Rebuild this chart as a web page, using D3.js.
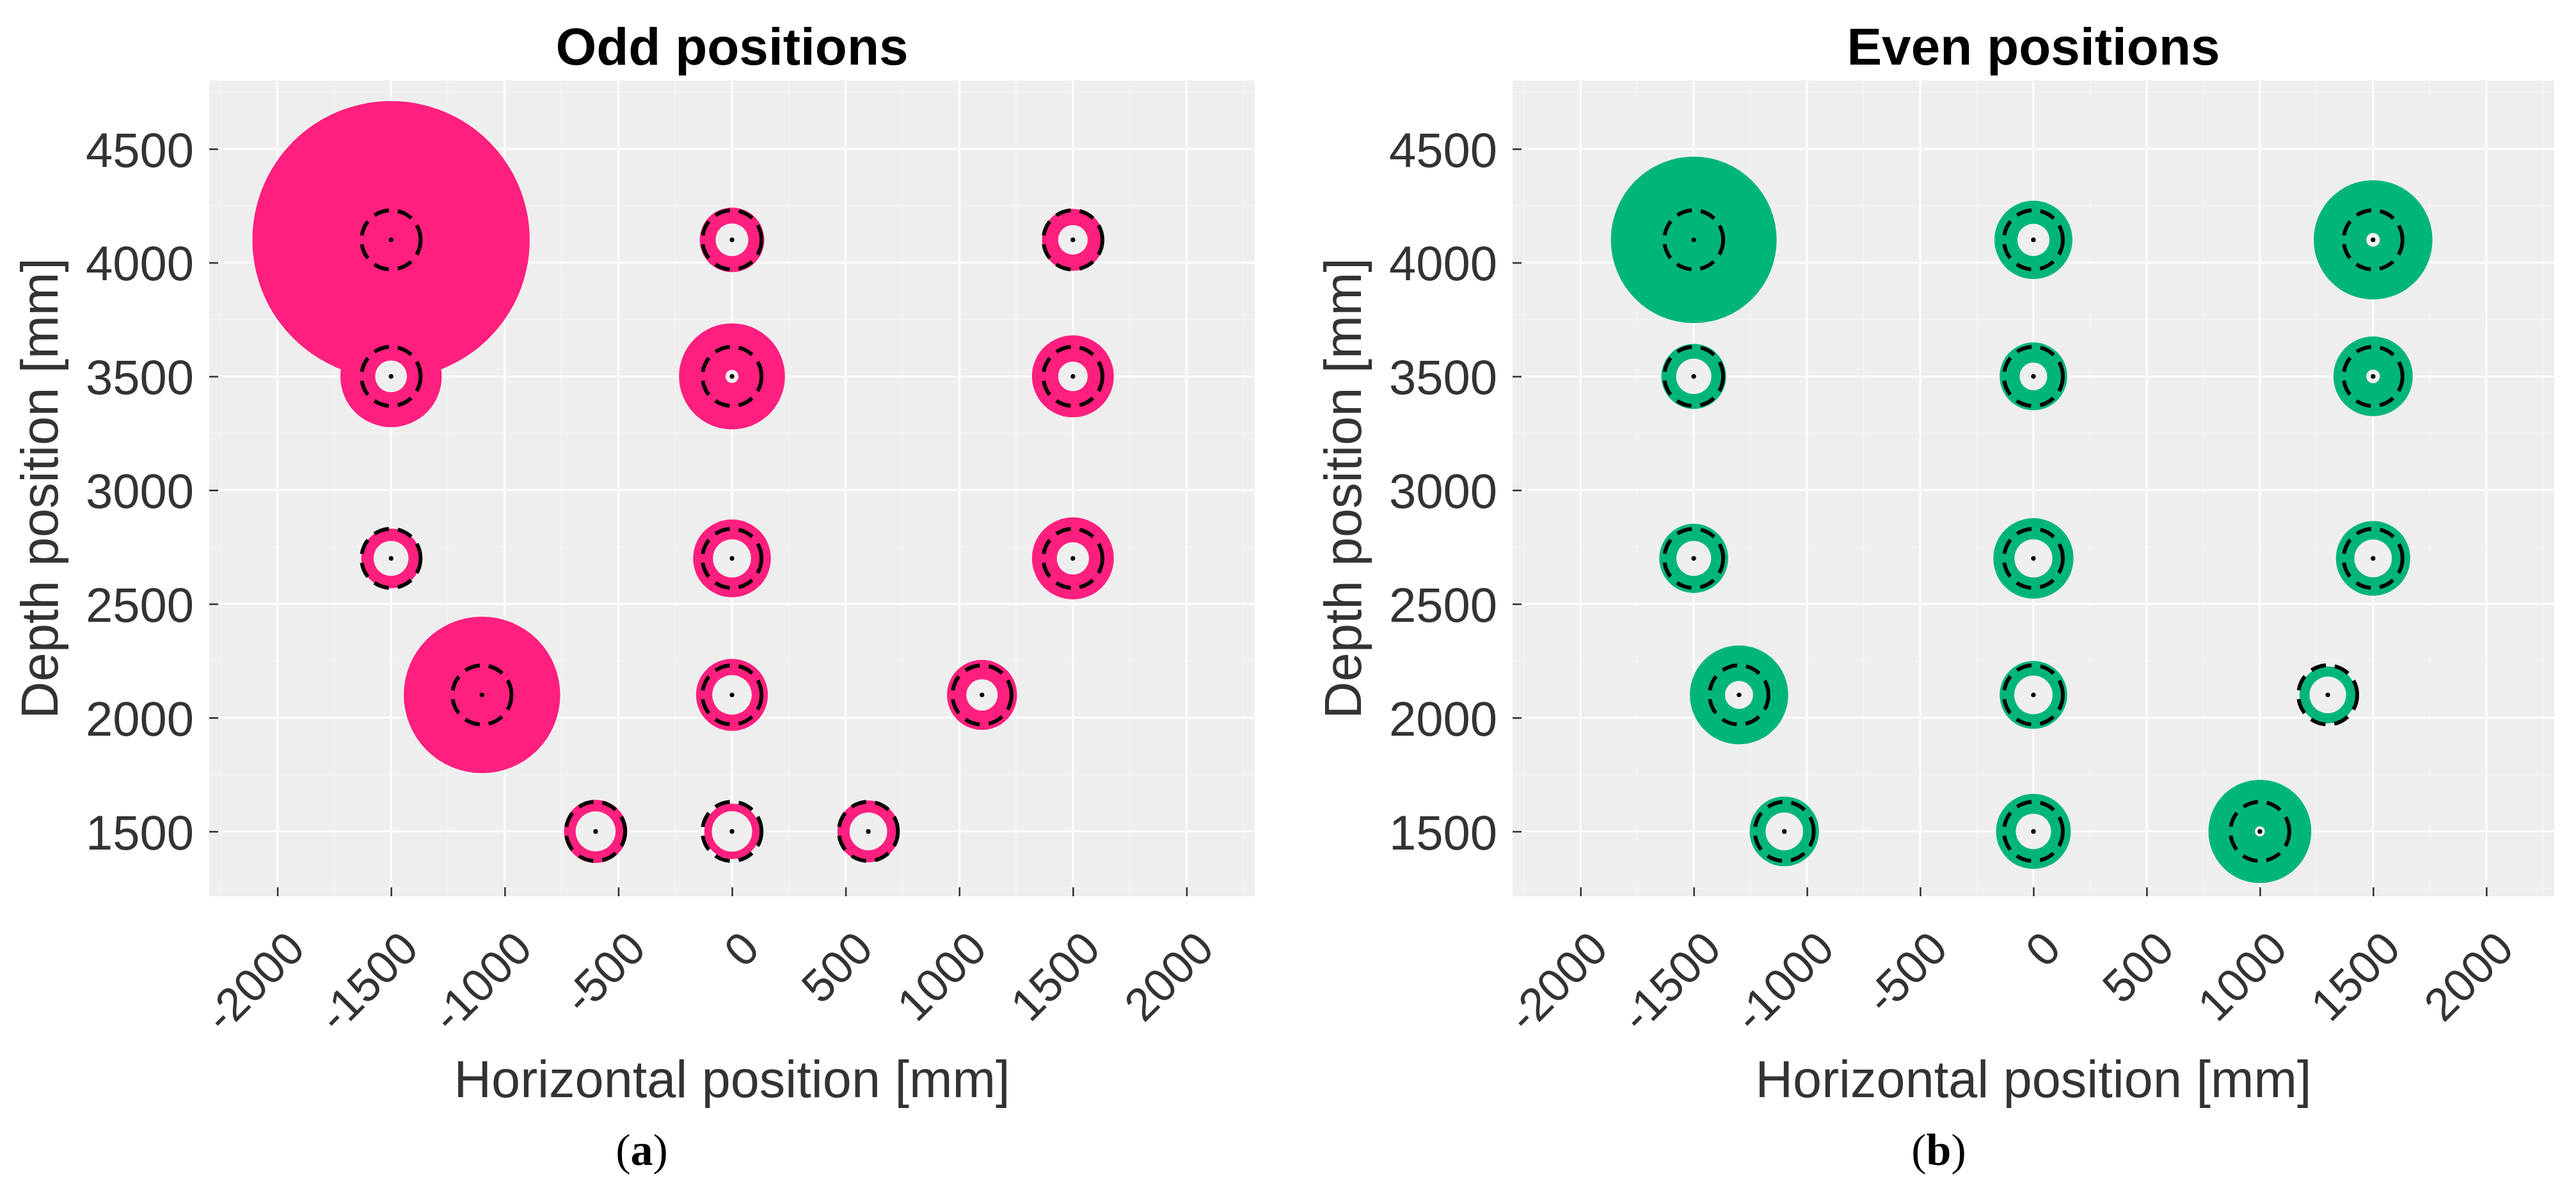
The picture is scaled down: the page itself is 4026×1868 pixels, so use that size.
<!DOCTYPE html>
<html>
<head>
<meta charset="utf-8">
<script src="https://cdn.jsdelivr.net/npm/d3@7"></script>
<style>
  body { margin: 0; background: #fff; }
  text { font-family: "Liberation Sans", Arial, sans-serif; }
</style>
</head>
<body>
<script>
// tick values shared by both panels
var xTicks = [-2000, -1500, -1000, -500, 0, 500, 1000, 1500, 2000];
var yTicks = [1500, 2000, 2500, 3000, 3500, 4000, 4500];

// odd positions: centre x / y [mm], outer radius and hole radius [mm]
var oddX = [-1500, 0, 1500, -1500, 0, 1500, -1500, 0, 1500, -1100, 0, 1100, -600, 0, 600];
var oddY = [4100, 4100, 4100, 3500, 3500, 3500, 2700, 2700, 2700, 2100, 2100, 2100, 1500, 1500, 1500];
var oddOuter = [610, 142, 136, 223, 233, 180, 131, 171, 180, 344, 158, 154, 139, 122, 136];
var oddHole  = [0, 72, 65, 70, 29, 65, 77, 84, 71, 0, 87, 69, 88, 89, 83];

// even positions
var evenX = [-1500, 0, 1500, -1500, 0, 1500, -1500, 0, 1500, -1300, 0, 1300, -1100, 0, 1000];
var evenY = [4100, 4100, 4100, 3500, 3500, 3500, 2700, 2700, 2700, 2100, 2100, 2100, 1500, 1500, 1500];
var evenOuter = [366, 172, 262, 143, 149, 175, 152, 177, 164, 217, 149, 125, 153, 165, 227];
var evenHole  = [0, 71, 30, 78, 61, 30, 77, 84, 83, 62, 85, 81, 83, 78, 22];

// reference (dashed) radius [mm]
var refRadius = 130;

var W = 4026, H = 1868;
var plotTop = 126, plotBottom = 1401;

var svg = d3.select("body").append("svg")
    .attr("width", W)
    .attr("height", H);

svg.append("rect").attr("width", W).attr("height", H).attr("fill", "#fff");

function drawPanel(opt) {
    var data = opt.xs.map(function(d, i) {
        return {x: d, y: opt.ys[i], R: opt.outer[i], r: opt.hole[i]};
    });

    var x = d3.scaleLinear().domain([-2300, 2300]).range([opt.left, opt.right]);
    var y = d3.scaleLinear().domain([1215, 4800]).range([plotBottom, plotTop]);
    var kx = Math.abs(x(1) - x(0)), ky = Math.abs(y(0) - y(1));

    var g = svg.append("g");

    // panel background
    g.append("rect")
        .attr("x", opt.left).attr("y", plotTop)
        .attr("width", opt.right - opt.left).attr("height", plotBottom - plotTop)
        .attr("fill", "#eeeeee");

    // minor grid
    var xMinor = xTicks.slice(0, -1).map(function(d) { return d + 250; })
        .concat([xTicks[0] - 250, xTicks[xTicks.length - 1] + 250]);
    var yMinor = yTicks.slice(0, -1).map(function(d) { return d + 250; })
        .concat([yTicks[0] - 250, yTicks[yTicks.length - 1] + 250]);
    g.selectAll(".xminor").data(xMinor).enter().append("line")
        .attr("x1", x).attr("x2", x).attr("y1", plotTop).attr("y2", plotBottom)
        .attr("stroke", "#f4f4f4").attr("stroke-width", 1.4);
    g.selectAll(".yminor").data(yMinor).enter().append("line")
        .attr("y1", y).attr("y2", y).attr("x1", opt.left).attr("x2", opt.right)
        .attr("stroke", "#f4f4f4").attr("stroke-width", 1.4);

    // major grid
    g.selectAll(".xgrid").data(xTicks).enter().append("line")
        .attr("x1", x).attr("x2", x).attr("y1", plotTop).attr("y2", plotBottom)
        .attr("stroke", "#fff").attr("stroke-width", 2.8);
    g.selectAll(".ygrid").data(yTicks).enter().append("line")
        .attr("y1", y).attr("y2", y).attr("x1", opt.left).attr("x2", opt.right)
        .attr("stroke", "#fff").attr("stroke-width", 2.8);

    // outer discs
    g.selectAll(".outer").data(data).enter().append("ellipse")
        .attr("cx", function(d) { return x(d.x); })
        .attr("cy", function(d) { return y(d.y); })
        .attr("rx", function(d) { return d.R * kx; })
        .attr("ry", function(d) { return d.R * ky; })
        .attr("fill", opt.color);

    // holes
    g.selectAll(".hole").data(data.filter(function(d) { return d.r > 0; })).enter().append("ellipse")
        .attr("cx", function(d) { return x(d.x); })
        .attr("cy", function(d) { return y(d.y); })
        .attr("rx", function(d) { return d.r * kx; })
        .attr("ry", function(d) { return d.r * ky; })
        .attr("fill", "#efefef");

    // dashed reference circle
    g.selectAll(".ref").data(data).enter().append("ellipse")
        .attr("cx", function(d) { return x(d.x); })
        .attr("cy", function(d) { return y(d.y); })
        .attr("rx", refRadius * kx)
        .attr("ry", refRadius * ky)
        .attr("fill", "none")
        .attr("stroke", "#000")
        .attr("stroke-width", 6)
        .attr("stroke-dasharray", "24 14");

    // centre dots
    g.selectAll(".dot").data(data).enter().append("circle")
        .attr("cx", function(d) { return x(d.x); })
        .attr("cy", function(d) { return y(d.y); })
        .attr("r", 3.6)
        .attr("fill", "#000");

    var fmt = function(d) { return String(d); };

    // x axis (ticks point inward)
    var xAxis = g.append("g")
        .attr("transform", "translate(0," + plotBottom + ")")
        .call(d3.axisBottom(x).tickValues(xTicks).tickSize(-14).tickFormat(fmt));
    xAxis.select(".domain").remove();
    xAxis.selectAll("line").attr("stroke", "#333").attr("stroke-width", 2.6);
    xAxis.selectAll("text")
        .attr("fill", "#333")
        .style("font-size", "72px")
        .attr("text-anchor", "end")
        .attr("y", 0).attr("dy", 0)
        .attr("transform", "translate(46,86) rotate(-45)");

    // y axis
    var yAxis = g.append("g")
        .attr("transform", "translate(" + opt.left + ",0)")
        .call(d3.axisLeft(y).tickValues(yTicks).tickSize(-14).tickPadding(24).tickFormat(fmt));
    yAxis.select(".domain").remove();
    yAxis.selectAll("line").attr("stroke", "#333").attr("stroke-width", 2.6);
    yAxis.selectAll("text")
        .attr("fill", "#333")
        .style("font-size", "76px")
        .attr("x", -24)
        .attr("dy", "0.36em");

    var cx = (opt.left + opt.right) / 2;

    // title
    g.append("text")
        .attr("x", cx).attr("y", 101)
        .attr("text-anchor", "middle")
        .style("font-size", "82px").style("font-weight", "bold")
        .attr("fill", "#000")
        .text(opt.title);

    // axis titles
    g.append("text")
        .attr("x", cx).attr("y", 1715)
        .attr("text-anchor", "middle")
        .style("font-size", "81px")
        .attr("fill", "#333")
        .text("Horizontal position [mm]");

    g.append("text")
        .attr("transform", "translate(" + (opt.left - 237) + "," + ((plotTop + plotBottom) / 2) + ") rotate(-90)")
        .attr("text-anchor", "middle")
        .style("font-size", "81px")
        .attr("fill", "#333")
        .text("Depth position [mm]");

    // sub figure label
    var lab = g.append("text")
        .attr("x", opt.labelX).attr("y", 1821)
        .attr("text-anchor", "middle")
        .style("font-family", "'Liberation Serif', 'Times New Roman', serif")
        .style("font-size", "70px")
        .attr("fill", "#000");
    lab.append("tspan").text("(");
    lab.append("tspan").style("font-weight", "bold").text(opt.label);
    lab.append("tspan").text(")");
}

drawPanel({
    xs: oddX, ys: oddY, outer: oddOuter, hole: oddHole,
    left: 327, right: 1961, color: "#ff1f7e",
    title: "Odd positions", label: "a", labelX: 1003
});

drawPanel({
    xs: evenX, ys: evenY, outer: evenOuter, hole: evenHole,
    left: 2364, right: 3992, color: "#00b57a",
    title: "Even positions", label: "b", labelX: 3030
});
</script>
</body>
</html>
